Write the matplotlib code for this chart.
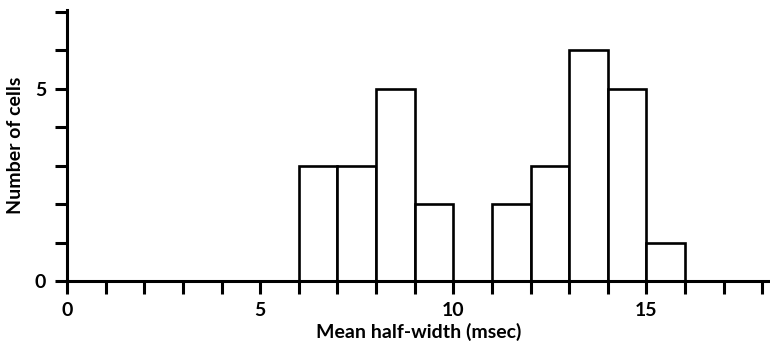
import matplotlib
matplotlib.use("Agg")
import matplotlib.pyplot as plt

# Histogram of mean spike half-width (1 msec bins)
bin_left = [6, 7, 8, 9, 11, 12, 13, 14, 15]
counts = [3, 3, 5, 2, 2, 3, 6, 5, 1]
x_ticks = list(range(0, 19))
x_labels = ["0" if t == 0 else str(t) if t % 5 == 0 else "" for t in x_ticks]
y_ticks = list(range(0, 8))
y_labels = [str(t) if t in (0, 5) else "" for t in y_ticks]

plt.rcParams["font.family"] = ["Lato", "DejaVu Sans"]

fig = plt.figure(figsize=(7.70, 3.51), dpi=100)
ax = fig.add_axes([67 / 770, 70 / 351, 703 / 770, 271 / 351])

ax.bar(bin_left, counts, width=1.0, align="edge", facecolor="white",
       edgecolor="black", linewidth=1.9, zorder=2)

ax.set_xlim(0, 18.2)
ax.set_ylim(0, 7.05)

for side in ("top", "right"):
    ax.spines[side].set_visible(False)
for side in ("left", "bottom"):
    ax.spines[side].set_linewidth(2.2)
    ax.spines[side].set_zorder(3)

ax.set_xticks(x_ticks)
ax.set_xticklabels(x_labels)
ax.set_yticks(y_ticks)
ax.set_yticklabels(y_labels)
ax.tick_params(axis="both", direction="out", length=9, width=2.2,
               labelsize=14, pad=6)
for lab in ax.get_xticklabels() + ax.get_yticklabels():
    lab.set_fontweight("bold")

ax.set_xlabel("Mean half-width (msec)", fontsize=14, fontweight="bold",
              labelpad=3)
ax.set_ylabel("Number of cells", fontsize=14, fontweight="bold",
              labelpad=8)

fig.savefig("out.png", dpi=100)
